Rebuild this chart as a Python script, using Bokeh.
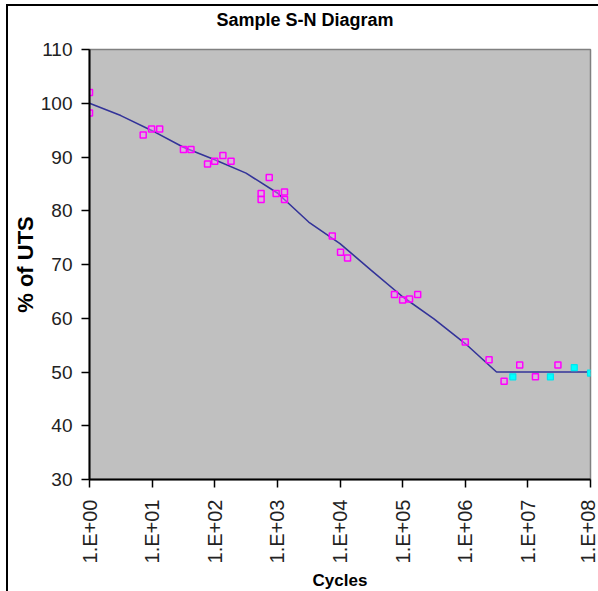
from bokeh.plotting import figure
from bokeh.models import FixedTicker, Div
from bokeh.layouts import column
from bokeh.embed import file_html
from bokeh.resources import INLINE
from math import pi

# Fitted S-N curve (cycles, % of UTS)
fit_cycles = [1, 3.16, 10, 31.6, 100, 316, 1000, 3162, 1.0e4, 3.16e4, 1.0e5, 3.16e5, 1.0e6, 3.16e6, 1.0e8]
fit_pct = [100, 97.7, 94.9, 91.8, 89.5, 87.0, 83.3, 77.9, 73.9, 68.9, 64.0, 59.9, 55.3, 50.0, 50.0]

# Failures (magenta)
fail_cycles = [1, 1, 7.2, 9.8, 13.2, 31.6, 41.7, 76.7, 100, 135, 182, 550, 550, 741, 955,
               1300, 1300, 7530, 10200, 13200, 74100, 1.0e5, 1.29e5, 1.74e5, 1.0e6, 2.4e6,
               4.17e6, 7.41e6, 1.32e7, 3.02e7]
fail_pct = [102.0, 98.2, 94.1, 95.2, 95.2, 91.4, 91.4, 88.7, 89.2, 90.3, 89.2, 83.2, 82.1, 86.2, 83.2,
            83.5, 82.1, 75.3, 72.3, 71.2, 64.4, 63.4, 63.6, 64.4, 55.6, 52.3,
            48.3, 51.3, 49.1, 51.3]

# Run-outs (cyan)
runout_cycles = [5.75e6, 2.29e7, 5.5e7, 1.0e8]
runout_pct = [49.1, 49.1, 50.8, 49.8]

x_ticks = [1, 10, 100, 1000, 10**4, 10**5, 10**6, 10**7, 10**8]
x_tick_labels = ["1.E+00", "1.E+01", "1.E+02", "1.E+03", "1.E+04", "1.E+05", "1.E+06", "1.E+07", "1.E+08"]
y_ticks = [30, 40, 50, 60, 70, 80, 90, 100, 110]
title_text = "Sample S-N Diagram"

FONT = "Liberation Sans"

p = figure(frame_width=501, frame_height=430, x_axis_type="log", x_range=(1, 1e8), y_range=(30, 110),
           output_backend="svg", toolbar_location=None,
           min_border_left=81, min_border_right=8, min_border_top=13, min_border_bottom=112,
           background_fill_color="#c0c0c0", border_fill_color="white")

p.grid.visible = False
p.outline_line_color = "#808080"
p.outline_line_width = 1.5

p.xaxis.ticker = FixedTicker(ticks=x_ticks)
p.xaxis.major_label_overrides = {t: lab for t, lab in zip(x_ticks, x_tick_labels)}
p.xaxis.major_label_orientation = pi / 2
p.yaxis.ticker = FixedTicker(ticks=y_ticks)

for ax in (p.xaxis, p.yaxis):
    ax.axis_line_color = "black"
    ax.axis_line_width = 2
    ax.major_tick_line_color = "black"
    ax.major_tick_line_width = 1.5
    ax.major_tick_out = 8
    ax.major_tick_in = 0
    ax.minor_tick_line_color = None
    ax.major_label_text_font = FONT
    ax.major_label_text_color = "#222222"
    ax.axis_label_text_font = FONT
    ax.axis_label_text_font_style = "bold"
    ax.axis_label_text_color = "black"

p.xaxis.major_label_text_font_size = "20px"
p.yaxis.major_label_text_font_size = "19px"
p.xaxis.major_label_standoff = 12
p.yaxis.major_label_standoff = 9
p.xaxis.axis_label = "Cycles"
p.xaxis.axis_label_text_font_size = "17px"
p.xaxis.axis_label_standoff = 5
p.yaxis.axis_label = "% of UTS"
p.yaxis.axis_label_text_font_size = "22px"
p.yaxis.axis_label_standoff = 0

p.line(fit_cycles, fit_pct, line_color="#333399", line_width=1.6)
p.scatter(fail_cycles, fail_pct, marker="square", size=6, line_color="#ff00ff",
          fill_color="#ff99ff", fill_alpha=0.4, line_width=1.5)
p.scatter(runout_cycles, runout_pct, marker="square", size=6, line_color="#00e5ee",
          fill_color="#00ffff", line_width=1.2)

title_div = Div(text=title_text, width=590, height=30, margin=(0, 0, 0, 0),
                styles={"font-family": "'Liberation Sans', sans-serif", "font-weight": "bold",
                        "font-size": "18px", "line-height": "28px", "text-align": "center",
                        "color": "black", "padding-left": "4px"})

layout = column(title_div, p, spacing=0,
                styles={"border-top": "2px solid black", "border-left": "2px solid black",
                        "margin-left": "6px", "margin-top": "4px"})

open("out.html", "w").write(file_html(layout, INLINE))
